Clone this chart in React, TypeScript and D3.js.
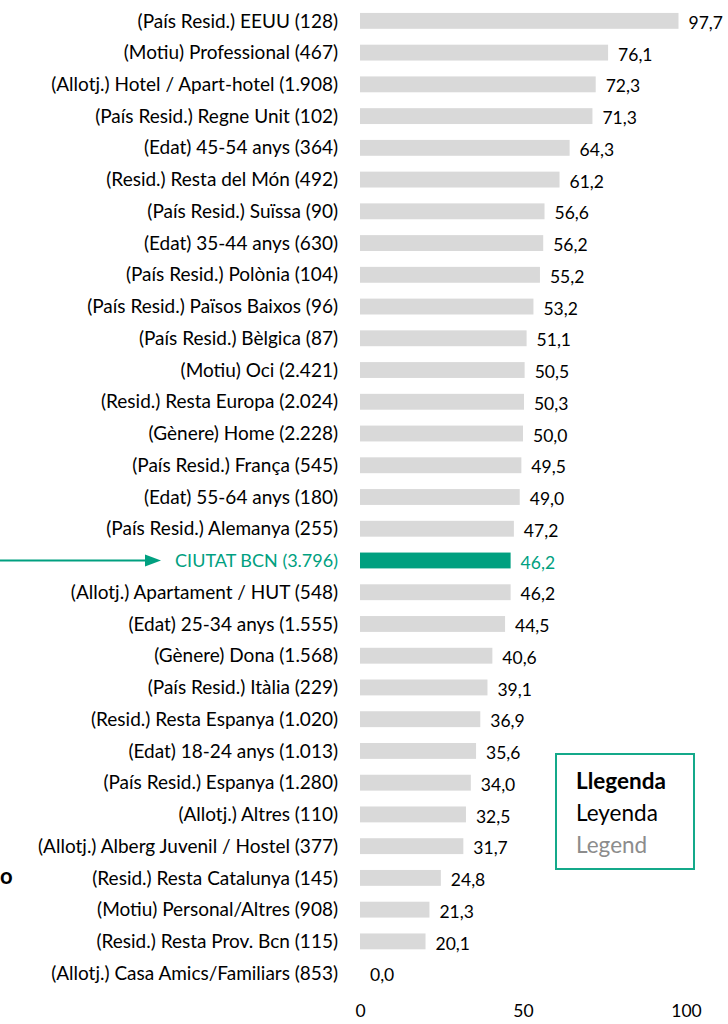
import { useEffect, useRef } from "react";
import * as d3 from "d3";

// categories (top to bottom) and their values
const categories = [
  "(País Resid.) EEUU (128)",
  "(Motiu) Professional (467)",
  "(Allotj.) Hotel / Apart-hotel (1.908)",
  "(País Resid.) Regne Unit (102)",
  "(Edat) 45-54 anys (364)",
  "(Resid.) Resta del Món (492)",
  "(País Resid.) Suïssa (90)",
  "(Edat) 35-44 anys (630)",
  "(País Resid.) Polònia (104)",
  "(País Resid.) Països Baixos (96)",
  "(País Resid.) Bèlgica (87)",
  "(Motiu) Oci (2.421)",
  "(Resid.) Resta Europa (2.024)",
  "(Gènere) Home (2.228)",
  "(País Resid.) França (545)",
  "(Edat) 55-64 anys (180)",
  "(País Resid.) Alemanya (255)",
  "CIUTAT BCN (3.796)",
  "(Allotj.) Apartament / HUT (548)",
  "(Edat) 25-34 anys  (1.555)",
  "(Gènere) Dona (1.568)",
  "(País Resid.) Itàlia (229)",
  "(Resid.) Resta Espanya (1.020)",
  "(Edat) 18-24 anys (1.013)",
  "(País Resid.) Espanya (1.280)",
  "(Allotj.) Altres (110)",
  "(Allotj.) Alberg Juvenil / Hostel (377)",
  "(Resid.) Resta Catalunya (145)",
  "(Motiu) Personal/Altres (908)",
  "(Resid.) Resta Prov. Bcn (115)",
  "(Allotj.) Casa Amics/Familiars (853)",
];

const values = [
  97.7, 76.1, 72.3, 71.3, 64.3, 61.2, 56.6, 56.2, 55.2, 53.2, 51.1, 50.5, 50.3,
  50.0, 49.5, 49.0, 47.2, 46.2, 46.2, 44.5, 40.6, 39.1, 36.9, 35.6, 34.0, 32.5,
  31.7, 24.8, 21.3, 20.1, 0.0,
];

const highlight = "CIUTAT BCN (3.796)";
const xTicks = [0, 50, 100];
const legendLines = ["Llegenda", "Leyenda", "Legend"];

const TEAL = "#00A080";
const GREY = "#D9D9D9";
const FONT = "Lato, 'Open Sans', sans-serif";

export default function App() {
  const ref = useRef<SVGSVGElement>(null);

  useEffect(() => {
    const svg = d3.select(ref.current);
    svg.selectAll("*").remove();

    const data = categories.map((c, i) => ({ name: c, value: values[i] }));

    const x = d3.scaleLinear().domain([0, 100]).range([360, 686]);
    const y = d3
      .scaleBand()
      .domain(categories)
      .range([5, 989])
      .paddingInner(0.5)
      .paddingOuter(0.25);

    const fmt = (v: number) => d3.format(".1f")(v).replace(".", ",");

    // bars
    svg
      .append("g")
      .selectAll("rect")
      .data(data)
      .join("rect")
      .attr("x", x(0))
      .attr("y", (d) => y(d.name)!)
      .attr("width", (d) => x(d.value) - x(0))
      .attr("height", y.bandwidth())
      .attr("fill", (d) => (d.name === highlight ? TEAL : GREY));

    // category labels
    svg
      .append("g")
      .selectAll("text")
      .data(data)
      .join("text")
      .attr("x", 338)
      .attr("y", (d) => y(d.name)! + y.bandwidth() / 2)
      .attr("dy", "0.35em")
      .attr("text-anchor", "end")
      .attr("font-family", FONT)
      .attr("font-size", (d) => (d.name === highlight ? 18 : 19))
      .attr("fill", (d) => (d.name === highlight ? TEAL : "#000"))
      .text((d) => d.name);

    // value labels
    svg
      .append("g")
      .selectAll("text")
      .data(data)
      .join("text")
      .attr("x", (d) => x(d.value) + 10)
      .attr("y", (d) => y(d.name)! + y.bandwidth() / 2 + 2)
      .attr("dy", "0.35em")
      .attr("font-family", FONT)
      .attr("font-size", 17.5)
      .attr("fill", (d) => (d.name === highlight ? TEAL : "#000"))
      .text((d) => fmt(d.value));

    // x axis (labels only)
    const axis = svg
      .append("g")
      .attr("transform", "translate(0,1011)")
      .call(d3.axisBottom(x).tickValues(xTicks).tickSize(0).tickPadding(0));
    axis.select(".domain").remove();
    axis
      .selectAll("text")
      .attr("font-family", FONT)
      .attr("font-size", 17.5)
      .attr("fill", "#000")
      .attr("dy", "0.35em");

    // arrow pointing at the highlighted row
    const ay = y(highlight)! + y.bandwidth() / 2;
    svg
      .append("line")
      .attr("x1", 0)
      .attr("x2", 148)
      .attr("y1", ay)
      .attr("y2", ay)
      .attr("stroke", TEAL)
      .attr("stroke-width", 2);
    svg
      .append("path")
      .attr("d", `M145,${ay - 6}L161,${ay}L145,${ay + 6}Z`)
      .attr("fill", TEAL);

    // legend box
    svg
      .append("rect")
      .attr("x", 556)
      .attr("y", 754)
      .attr("width", 138)
      .attr("height", 115)
      .attr("fill", "#fff")
      .attr("stroke", "#14A98A")
      .attr("stroke-width", 2);
    svg
      .append("g")
      .selectAll("text")
      .data(legendLines)
      .join("text")
      .attr("x", 576)
      .attr("y", (_, i) => 789 + i * 32)
      .attr("font-family", FONT)
      .attr("font-size", 22.5)
      .attr("font-weight", (_, i) => (i === 0 ? "bold" : "normal"))
      .attr("fill", (_, i) => ["#000", "#000", "#8C8C8C"][i])
      .text((d) => d);

    // fragment at the left edge
    svg
      .append("text")
      .attr("x", 0)
      .attr("y", 884)
      .attr("font-family", FONT)
      .attr("font-size", 22)
      .attr("font-weight", "bold")
      .text("o");
  }, []);

  return (
    <svg
      ref={ref}
      width={728}
      height={1024}
      style={{ position: "absolute", left: 0, top: 0, background: "#fff" }}
    />
  );
}
